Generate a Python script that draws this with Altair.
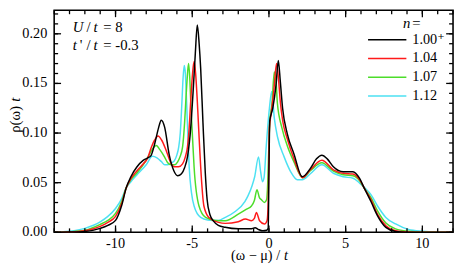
import altair as alt
import pandas as pd

# ---------------- data ----------------
series_labels = ["1.00\u207a", "1.04", "1.07", "1.12"]
series_colors = ["#000000", "#ff1a1a", "#4cdd2a", "#4de1f2"]

x_major = [-10, -5, 0, 5, 10]
x_minor = list(range(-14, 13))
y_major = [0.0, 0.05, 0.10, 0.15, 0.20]
y_minor = [round(i * 0.01, 2) for i in range(0, 23)]

w_100 = [-14, -13, -12, -11, -10.5, -10, -9.6, -9.3, -9.0, -8.6, -8.2, -7.9, -7.7, -7.45, -7.2,
         -7.02, -6.8, -6.5, -6.2, -5.95, -5.7, -5.5, -5.3, -5.1, -4.95, -4.8, -4.67, -4.55,
         -4.45, -4.3, -4.15, -4.03, -3.85, -3.6, -3.3, -2.85, -2.0, -1.2, -0.9, -0.7, -0.4,
         -0.15, -0.05, 0.0, 0.05, 0.25, 0.46, 0.61, 0.74, 0.89, 1.2, 1.63, 2.17, 2.7, 3.1,
         3.45, 3.8, 4.2, 4.84, 5.48, 5.9, 6.23, 6.65, 7.08, 7.62, 8.26, 9.0, 10, 12]
rho_100 = [0, 0.0002, 0.0008, 0.004, 0.007, 0.012, 0.027, 0.045, 0.056, 0.066, 0.0725, 0.075,
           0.077, 0.089, 0.105, 0.113, 0.106, 0.078, 0.062, 0.057, 0.059, 0.065, 0.077, 0.105,
           0.14, 0.18, 0.209, 0.19, 0.165, 0.11, 0.06, 0.033, 0.018, 0.011, 0.007, 0.005,
           0.0035, 0.0035, 0.0045, 0.003, 0.0015, 0.002, 0.004, 0.06, 0.112, 0.125, 0.148,
           0.173, 0.152, 0.125, 0.099, 0.079, 0.056, 0.0644, 0.074, 0.0776, 0.074, 0.066,
           0.061, 0.061, 0.0545, 0.044, 0.031, 0.0166, 0.005, 0.0008, 0.0, 0, 0]

w_104 = [-14, -13, -12, -11, -10.5, -10, -9.6, -9.3, -9.0, -8.6, -8.19, -7.9, -7.66, -7.45,
         -7.23, -7.0, -6.7, -6.4, -6.17, -5.9, -5.63, -5.45, -5.31, -5.2, -5.1, -4.98, -4.88,
         -4.78, -4.67, -4.55, -4.45, -4.24, -3.92, -3.28, -2.85, -2.0, -1.53, -1.14, -0.95,
         -0.82, -0.61, -0.29, -0.12, -0.05, 0.03, 0.15, 0.3, 0.5, 0.62, 0.75, 0.9, 1.2, 1.63,
         2.2, 2.7, 3.45, 4.2, 4.84, 5.48, 5.91, 6.23, 6.65, 7.08, 7.62, 8.26, 9.1, 10, 12]
rho_104 = [0, 0.0003, 0.0015, 0.006, 0.01, 0.016, 0.029, 0.045, 0.054, 0.062, 0.069, 0.075,
           0.086, 0.093, 0.097, 0.093, 0.0825, 0.07, 0.066, 0.066, 0.069, 0.076, 0.086, 0.105,
           0.132, 0.16, 0.172, 0.16, 0.132, 0.095, 0.066, 0.0265, 0.015, 0.010, 0.009, 0.0107,
           0.0133, 0.0117, 0.014, 0.020, 0.0117, 0.0084, 0.012, 0.03, 0.105, 0.12, 0.14, 0.170,
           0.155, 0.13, 0.112, 0.094, 0.074, 0.055, 0.063, 0.0726, 0.063, 0.0594, 0.0588,
           0.053, 0.044, 0.033, 0.018, 0.0067, 0.0015, 0.0003, 0, 0]

w_107 = [-14, -13, -12, -11, -10.5, -10, -9.6, -9.3, -9.0, -8.6, -8.2, -7.77, -7.55, -7.34,
         -7.1, -6.81, -6.6, -6.38, -6.15, -5.95, -5.8, -5.63, -5.5, -5.42, -5.33, -5.24,
         -5.15, -5.1, -4.98, -4.88, -4.56, -4.13, -3.5, -2.85, -2.0, -1.46, -1.14, -0.95,
         -0.78, -0.62, -0.5, -0.29, -0.15, -0.08, 0.0, 0.05, 0.2, 0.35, 0.45, 0.55, 0.85,
         1.2, 1.63, 2.2, 2.7, 3.45, 4.2, 4.84, 5.48, 5.91, 6.23, 6.65, 7.08, 7.62, 8.26, 9.1,
         10, 12]
rho_107 = [0, 0.0005, 0.002, 0.008, 0.012, 0.019, 0.031, 0.045, 0.053, 0.06, 0.068, 0.079,
           0.085, 0.0875, 0.083, 0.076, 0.07, 0.068, 0.068, 0.071, 0.076, 0.086, 0.11, 0.132,
           0.155, 0.170, 0.152, 0.132, 0.095, 0.066, 0.0265, 0.015, 0.012, 0.0117, 0.0183,
           0.0233, 0.0265, 0.032, 0.043, 0.035, 0.033, 0.030, 0.033, 0.0496, 0.09, 0.11,
           0.13, 0.1615, 0.155, 0.13, 0.105, 0.087, 0.071, 0.055, 0.062, 0.070, 0.0616,
           0.058, 0.057, 0.052, 0.044, 0.035, 0.0216, 0.0094, 0.0035, 0.001, 0.0002, 0]

w_112 = [-14, -13, -12, -11, -10.5, -10, -9.6, -9.3, -9.0, -8.6, -8.0, -7.6, -7.3, -7.0, -6.8,
         -6.59, -6.35, -6.17, -6.0, -5.88, -5.78, -5.67, -5.6, -5.52, -5.45, -5.37, -5.28,
         -5.2, -5.05, -4.88, -4.45, -4.0, -3.3, -2.85, -2.2, -1.57, -1.36, -1.1, -0.93,
         -0.68, -0.55, -0.42, -0.32, -0.18, 0.03, 0.18, 0.35, 0.56, 0.99, 1.42, 1.85, 2.17,
         2.7, 3.45, 4.2, 4.84, 5.48, 5.91, 6.23, 6.65, 7.08, 7.62, 8.26, 9.1, 10, 11, 12]
rho_112 = [0, 0.001, 0.004, 0.0105, 0.016, 0.024, 0.034, 0.045, 0.051, 0.058, 0.068, 0.0766,
           0.075, 0.071, 0.068, 0.068, 0.07, 0.072, 0.078, 0.086, 0.1, 0.132, 0.155, 0.168,
           0.16, 0.132, 0.095, 0.066, 0.04, 0.0265, 0.015, 0.0125, 0.012, 0.015, 0.021,
           0.031, 0.037, 0.047, 0.056, 0.076, 0.062, 0.051, 0.055, 0.086, 0.125, 0.142, 0.115,
           0.096, 0.076, 0.061, 0.053, 0.053, 0.059, 0.068, 0.0595, 0.056, 0.0545, 0.0496,
           0.045, 0.038, 0.0265, 0.015, 0.0084, 0.0028, 0.001, 0.0002, 0]

series = [
    (series_labels[3], w_112, rho_112),
    (series_labels[2], w_107, rho_107),
    (series_labels[1], w_104, rho_104),
    (series_labels[0], w_100, rho_100),
]
rows = []
for lab, ws, rs in series:
    for w, r in zip(ws, rs):
        rows.append({"n": lab, "w": w, "rho": r})
df = pd.DataFrame(rows)
anno_df = pd.DataFrame({"k": [0]})

# ---------------- layout ----------------
W, H = 406, 226
XMIN, XMAX, YMAX = -14, 12, 0.2237
FONT = "Liberation Serif, Times New Roman, Tinos, Nimbus Roman, DejaVu Serif, serif"
xscale = alt.Scale(domain=[XMIN, XMAX], nice=False, zero=False)
yscale = alt.Scale(domain=[0, YMAX], nice=False, zero=True)

main = alt.Chart(df).mark_line(strokeWidth=1.5, interpolate="monotone").encode(
    x=alt.X("w:Q", scale=xscale, axis=None),
    y=alt.Y("rho:Q", scale=yscale, axis=None),
    color=alt.Color("n:N", scale=alt.Scale(domain=series_labels, range=series_colors),
                    legend=alt.Legend(orient="none", legendX=318.5, legendY=22.5, title=None,
                                      symbolType="stroke", symbolSize=1521,
                                      symbolStrokeWidth=1.5, labelFont=FONT,
                                      labelFontSize=14.5, labelColor="black",
                                      labelOffset=5, rowPadding=3.1, clipHeight=15,
                                      padding=0)),
)

# inward tick marks on all four sides, each a two-point line segment in data units
px_x = (XMAX - XMIN) / W
px_y = YMAX / H
seg = []
k = 0
for vals, size in ((x_minor, 4), (x_major, 7)):
    for v in vals:
        for y0, y1 in ((0.0, size * px_y), (YMAX, YMAX - size * px_y)):
            seg.append({"id": k, "tx": v, "ty": y0, "o": 0})
            seg.append({"id": k, "tx": v, "ty": y1, "o": 1})
            k += 1
for vals, size in ((y_minor, 4), (y_major, 7)):
    for v in vals:
        for x0, x1 in ((XMIN, XMIN + size * px_x), (XMAX, XMAX - size * px_x)):
            seg.append({"id": k, "tx": x0, "ty": v, "o": 0})
            seg.append({"id": k, "tx": x1, "ty": v, "o": 1})
            k += 1
ticks = alt.Chart(pd.DataFrame(seg)).mark_line(
    color="black", strokeWidth=1.3, interpolate="linear").encode(
    x=alt.X("tx:Q", scale=xscale, axis=None),
    y=alt.Y("ty:Q", scale=yscale, axis=None),
    detail="id:N",
    order="o:Q",
)

# tick labels, placed through the same scales
xlab_df = pd.DataFrame({"w": x_major, "lab": [str(v) for v in x_major]})
ylab_df = pd.DataFrame({"rho": y_major, "lab": [f"{v:.2f}" for v in y_major]})

xlabels = alt.Chart(xlab_df).mark_text(
    font=FONT, fontSize=14.5, color="black", align="center", baseline="top").encode(
    x=alt.X("w:Q", scale=xscale, axis=None), y=alt.value(H + 4.5), text="lab:N")
ylabels = alt.Chart(ylab_df).mark_text(
    font=FONT, fontSize=14.5, color="black", align="right", baseline="middle").encode(
    y=alt.Y("rho:Q", scale=yscale, axis=None), x=alt.value(-7), text="lab:N")


def label(text, x, y, italic=False, size=15, angle=0, align="left", baseline="alphabetic"):
    return alt.Chart(anno_df).mark_text(
        text=text, font=FONT, fontSize=size, fontStyle="italic" if italic else "normal",
        align=align, baseline=baseline, angle=angle, color="black",
    ).encode(x=alt.value(x), y=alt.value(y))


ox, oy = 55, 8  # page position of the plot origin
texts = [
    label("U", 74 - ox, 30.5 - oy, italic=True),
    label("/", 88 - ox, 30.5 - oy),
    label("t", 95 - ox, 30.5 - oy, italic=True),
    label("= 8", 105 - ox, 30.5 - oy),
    label("t", 74 - ox, 48.5 - oy, italic=True),
    label("'", 81 - ox, 48.5 - oy),
    label("/", 88 - ox, 48.5 - oy),
    label("t", 95 - ox, 48.5 - oy, italic=True),
    label("= -0.3", 105 - ox, 48.5 - oy),
    label("n", 410 - ox, 26 - oy, italic=True),
    label("=", 419.5 - ox, 26 - oy),
    label("(\u03c9 \u2212 \u03bc) /", 285 - ox, 262 - oy, size=14.5, align="right"),
    label("t", 289 - ox, 262 - oy, size=14.5, italic=True),
    label("\u03c1(\u03c9)", 15.5 - ox, 119 - oy, angle=270, align="center", baseline="middle"),
    label("t", 15.5 - ox, 99 - oy, italic=True, angle=270, align="center", baseline="middle"),
]

chart = alt.layer(
    main, ticks, xlabels, ylabels, *texts,
).properties(
    width=W, height=H,
    autosize=alt.AutoSizeParams(type="none"),
    padding={"left": 47, "top": 0, "right": 2, "bottom": 33},
    background="white",
).configure_view(stroke="black", strokeWidth=1.6)

chart.save("out.html", embed_options={"renderer": "svg", "actions": False})
